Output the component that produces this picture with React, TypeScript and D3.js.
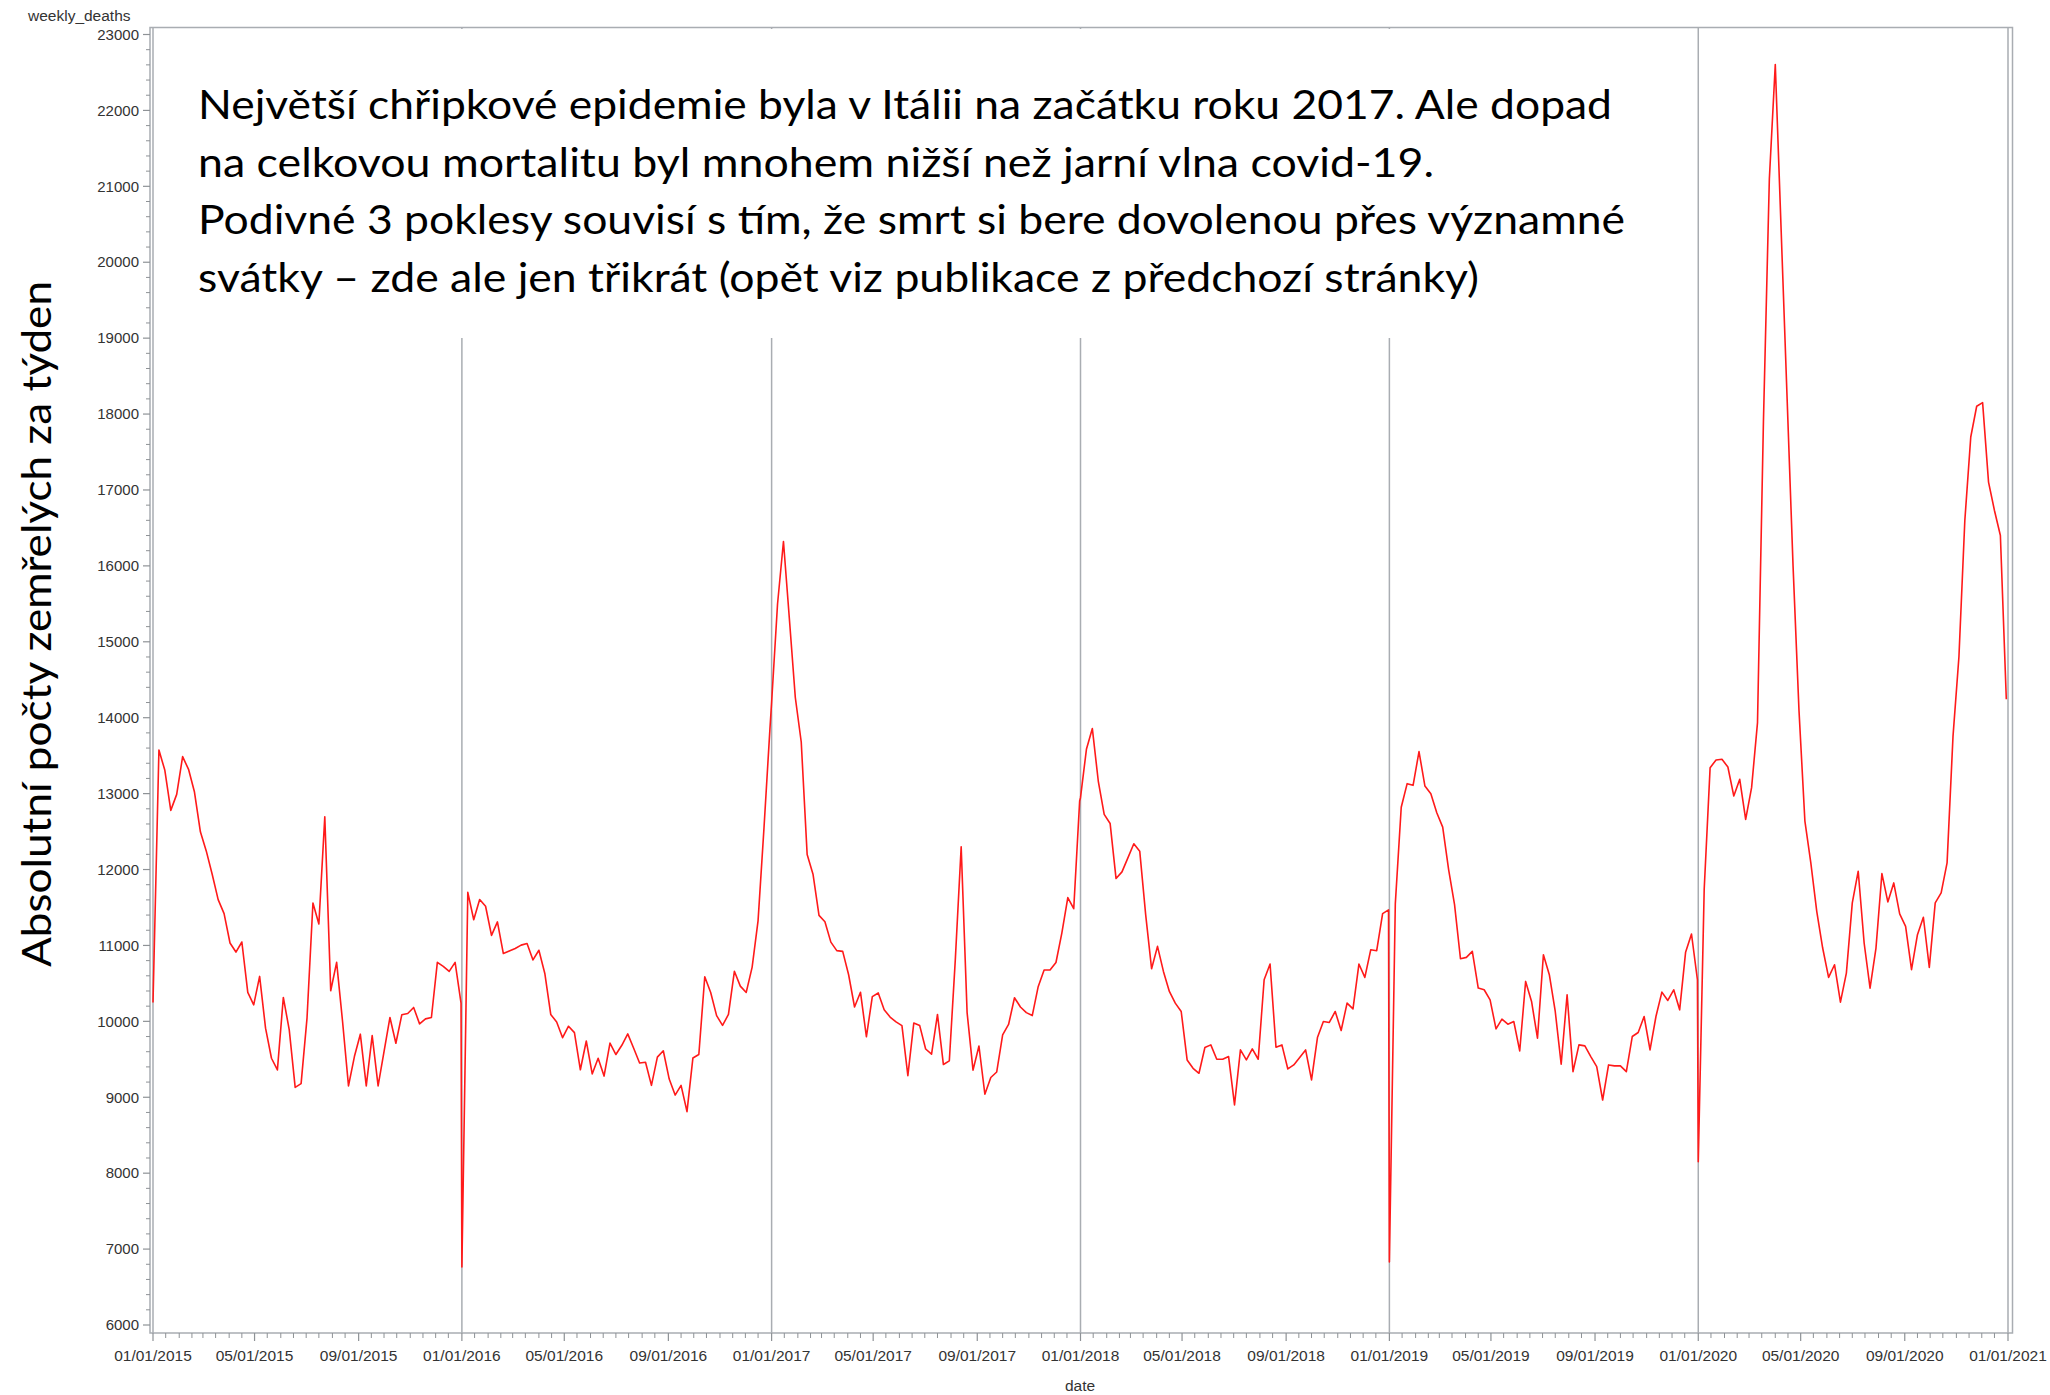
import React, { useEffect, useRef } from "react";
import * as d3 from "d3";

// weekly deaths, one value per week starting on 1 January of each year
const deaths2015 = [10249, 13575, 13307, 12779, 12990, 13487, 13320, 13021, 12497, 12242, 11934, 11604, 11419, 11032, 10913, 11045, 10381, 10218, 10592, 9910, 9514, 9360, 10315, 9888, 9130, 9180, 10042, 11560, 11283, 12695, 10403, 10777, 9998, 9150, 9536, 9831, 9150, 9813, 9150, 9602, 10051, 9712, 10086, 10104, 10183, 9967, 10033, 10051, 10777, 10724, 10658, 10777, 10240];
const deaths2016 = [6764, 11700, 11338, 11605, 11516, 11132, 11310, 10893, 10926, 10960, 11004, 11026, 10809, 10937, 10631, 10091, 9991, 9785, 9936, 9852, 9362, 9741, 9307, 9513, 9279, 9713, 9563, 9685, 9835, 9646, 9451, 9462, 9157, 9529, 9613, 9240, 9029, 9157, 8811, 9518, 9563, 10587, 10381, 10075, 9947, 10091, 10659, 10464, 10381, 10715, 11327, 12550, 13850];
const deaths2017 = [14200, 15498, 16321, 15300, 14266, 13680, 12198, 11934, 11396, 11313, 11044, 10932, 10922, 10614, 10189, 10384, 9797, 10326, 10374, 10154, 10057, 9993, 9944, 9284, 9978, 9944, 9636, 9568, 10091, 9431, 9480, 10800, 12301, 10115, 9357, 9675, 9040, 9260, 9333, 9822, 9959, 10311, 10189, 10115, 10076, 10457, 10677, 10677, 10775, 11166, 11631, 11484, 12902];
const deaths2018 = [12946, 13584, 13857, 13166, 12726, 12607, 11881, 11969, 12154, 12339, 12242, 11406, 10693, 10988, 10658, 10394, 10240, 10130, 9492, 9382, 9316, 9655, 9690, 9501, 9501, 9536, 8900, 9624, 9492, 9637, 9501, 10548, 10755, 9659, 9690, 9373, 9426, 9523, 9624, 9228, 9787, 9998, 9985, 10130, 9879, 10240, 10165, 10755, 10579, 10944, 10931, 11419, 11468];
const deaths2019 = [6830, 11550, 12820, 13131, 13109, 13553, 13100, 12999, 12748, 12559, 12000, 11538, 10825, 10843, 10922, 10438, 10416, 10284, 9901, 10029, 9963, 9998, 9611, 10526, 10262, 9778, 10878, 10614, 10130, 9435, 10350, 9338, 9690, 9677, 9536, 9404, 8964, 9426, 9413, 9413, 9338, 9800, 9853, 10064, 9624, 10064, 10385, 10275, 10416, 10152, 10909, 11151, 10548];
const deaths2020 = [8150, 11736, 13342, 13443, 13452, 13351, 12968, 13188, 12660, 13078, 13936, 17900, 21100, 22604, 20400, 18200, 16000, 14100, 12638, 12088, 11450, 10966, 10579, 10746, 10253, 10636, 11560, 11978, 11032, 10438, 10966, 11947, 11573, 11824, 11415, 11252, 10680, 11142, 11371, 10711, 11560, 11692, 12088, 13750, 14800, 16600, 17698, 18103, 18151, 17104, 16730, 16400, 14244];

const years = [2015, 2016, 2017, 2018, 2019, 2020];
const series = [deaths2015, deaths2016, deaths2017, deaths2018, deaths2019, deaths2020];

const refLineDates = ["2015-01-01", "2016-01-01", "2017-01-01", "2018-01-01", "2019-01-01", "2020-01-01", "2021-01-01"];
const yTickValues = [6000, 7000, 8000, 9000, 10000, 11000, 12000, 13000, 14000, 15000, 16000, 17000, 18000, 19000, 20000, 21000, 22000, 23000];
const xTickDates = [
  "2015-01-01", "2015-05-01", "2015-09-01", "2016-01-01", "2016-05-01", "2016-09-01",
  "2017-01-01", "2017-05-01", "2017-09-01", "2018-01-01", "2018-05-01", "2018-09-01",
  "2019-01-01", "2019-05-01", "2019-09-01", "2020-01-01", "2020-05-01", "2020-09-01", "2021-01-01",
];

const noteLines = [
  "Největší chřipkové epidemie byla v Itálii na začátku roku 2017. Ale dopad",
  "na celkovou mortalitu byl mnohem nižší než jarní vlna covid-19.",
  "Podivné 3 poklesy souvisí s tím, že smrt si bere dovolenou přes významné",
  "svátky – zde ale jen třikrát (opět viz publikace z předchozí stránky)",
];
const yTitle = "Absolutní počty zemřelých za týden";

const W = 2050;
const H = 1395;

export default function App() {
  const ref = useRef<SVGSVGElement>(null);

  useEffect(() => {
    const svg = d3.select(ref.current);
    svg.selectAll("*").remove();

    const parse = d3.timeParse("%Y-%m-%d");
    const fmt = d3.timeFormat("%m/%d/%Y");
    const sans = "'Liberation Sans', Arial, sans-serif";
    const grey = "#a9adb2";

    const wall = { left: 150, right: 2012.5, top: 27.5, bottom: 1333 };

    const points = years.flatMap((yr, i) =>
      series[i].map((v, k) => ({ date: new Date(yr, 0, 1 + 7 * k), value: v }))
    );

    const x = d3.scaleTime()
      .domain([new Date(2015, 0, 1), new Date(2021, 0, 1)])
      .range([153, 2008]);
    const y = d3.scaleLinear().domain([6000, 23000]).range([1325, 34.5]);

    svg.append("rect").attr("width", W).attr("height", H).attr("fill", "#fff");

    // frame of the plot area
    svg.append("rect")
      .attr("x", wall.left).attr("y", wall.top)
      .attr("width", wall.right - wall.left).attr("height", wall.bottom - wall.top)
      .attr("fill", "none").attr("stroke", grey).attr("stroke-width", 1.5);

    // reference lines on 1 January
    svg.selectAll("line.ref")
      .data(refLineDates.map(d => parse(d)!))
      .enter().append("line")
      .attr("x1", d => x(d)).attr("x2", d => x(d))
      .attr("y1", wall.top).attr("y2", wall.bottom)
      .attr("stroke", grey).attr("stroke-width", 1.5);

    // y axis ticks
    const yMinor = d3.range(6000, 23001, 200).filter(v => v % 1000 !== 0);
    svg.selectAll("line.ymin").data(yMinor).enter().append("line")
      .attr("x1", wall.left - 4).attr("x2", wall.left)
      .attr("y1", d => y(d)).attr("y2", d => y(d))
      .attr("stroke", "#8e9296").attr("stroke-width", 1);
    svg.selectAll("line.ymaj").data(yTickValues).enter().append("line")
      .attr("x1", wall.left - 7).attr("x2", wall.left)
      .attr("y1", d => y(d)).attr("y2", d => y(d))
      .attr("stroke", "#8e9296").attr("stroke-width", 1.2);
    svg.selectAll("text.ylab").data(yTickValues).enter().append("text")
      .attr("x", 139).attr("y", d => y(d)).attr("dy", "0.35em")
      .attr("text-anchor", "end").attr("font-family", sans).attr("font-size", 15)
      .attr("fill", "#333").text(d => String(d));

    // x axis ticks
    const xMajor = xTickDates.map(d => parse(d)!);
    const xMinor = d3.timeMonth.range(new Date(2015, 0, 1), new Date(2021, 0, 1))
      .flatMap(m => [m, new Date(m.getFullYear(), m.getMonth(), 16)])
      .filter(d => !(d.getDate() === 1 && d.getMonth() % 4 === 0));
    svg.selectAll("line.xmin").data(xMinor).enter().append("line")
      .attr("x1", d => x(d)).attr("x2", d => x(d))
      .attr("y1", wall.bottom).attr("y2", wall.bottom + 5)
      .attr("stroke", "#8e9296").attr("stroke-width", 1);
    svg.selectAll("line.xmaj").data(xMajor).enter().append("line")
      .attr("x1", d => x(d)).attr("x2", d => x(d))
      .attr("y1", wall.bottom).attr("y2", wall.bottom + 8)
      .attr("stroke", "#8e9296").attr("stroke-width", 1.2);
    svg.selectAll("text.xlab").data(xMajor).enter().append("text")
      .attr("x", d => x(d)).attr("y", 1361)
      .attr("text-anchor", "middle").attr("font-family", sans).attr("font-size", 15.5)
      .attr("fill", "#333").text(d => fmt(d));

    // axis names
    svg.append("text").attr("x", 28).attr("y", 21)
      .attr("font-family", sans).attr("font-size", 15.5).attr("fill", "#333")
      .text("weekly_deaths");
    svg.append("text").attr("x", 1080).attr("y", 1391).attr("text-anchor", "middle")
      .attr("font-family", sans).attr("font-size", 15.5).attr("fill", "#333")
      .text("date");

    // data line
    const line = d3.line<{ date: Date; value: number }>()
      .x(d => x(d.date))
      .y(d => y(d.value));
    svg.append("path").datum(points)
      .attr("d", line)
      .attr("fill", "none").attr("stroke", "#ff1a1a").attr("stroke-width", 1.6)
      .attr("stroke-linejoin", "round");

    // text box pasted over the chart
    svg.append("rect").attr("x", 156).attr("y", 29).attr("width", 1510).attr("height", 309)
      .attr("fill", "#fff");
    const noteWidths = [1414, 1236, 1427, 1281];
    noteLines.forEach((t, i) => {
      svg.append("text")
        .attr("x", 198).attr("y", 119 + i * 57.5)
        .attr("font-family", "Lato, 'Open Sans', sans-serif").attr("font-size", 41)
        .attr("fill", "#000")
        .attr("textLength", noteWidths[i]).attr("lengthAdjust", "spacingAndGlyphs")
        .text(t);
    });

    svg.append("text")
      .attr("transform", "translate(51,624) rotate(-90)")
      .attr("text-anchor", "middle")
      .attr("font-family", "Lato, 'Open Sans', sans-serif").attr("font-size", 41)
      .attr("fill", "#000")
      .attr("textLength", 686).attr("lengthAdjust", "spacingAndGlyphs")
      .text(yTitle);
  }, []);

  return <svg ref={ref} width={W} height={H} style={{ position: "absolute", left: 0, top: 0 }} />;
}
